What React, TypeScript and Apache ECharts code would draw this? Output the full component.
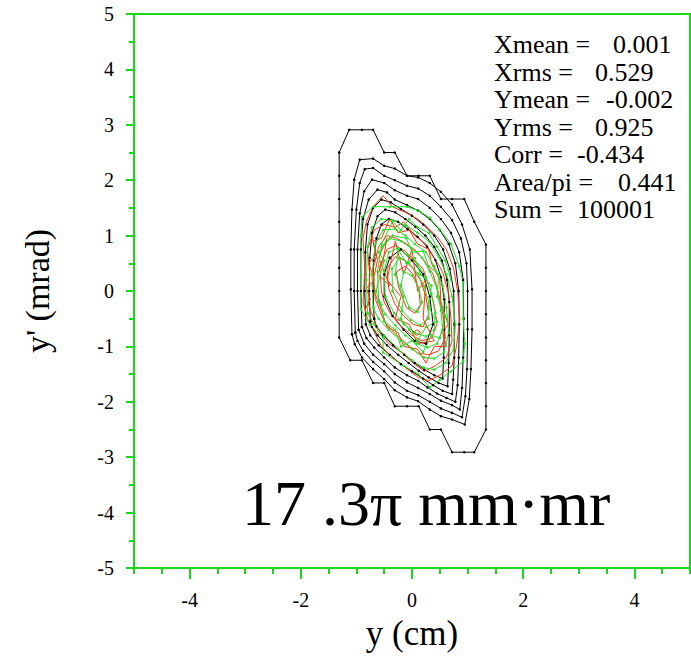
import React, { useEffect, useRef } from "react";
import * as echarts from "echarts";

// ---- axis ticks ----
const xTickLabels = ["-4", "-2", "0", "2", "4"];
const axisMin = -5;
const axisMax = 5;

// ---- statistics box ----
const statLabels = ["Xmean =", "Xrms =", "Ymean =", "Yrms =", "Corr =", "Area/pi =", "Sum ="];
const statValues = ["0.001", "0.529", "-0.002", "0.925", "-0.434", "0.441", "100001"];
const statValueX = [613, 595, 606, 595, 577, 618, 577];
const emittanceText = "17 .3\u03c0 mm\u00b7mr";

// ---- black contours (y [cm], y' [mrad]) ----
const black1 = [
  [-1.31, 2.5], [-1.13, 2.91], [-0.9, 2.91], [-0.7, 2.91], [-0.5, 2.5], [-0.31, 2.5], [-0.09, 2.08], [0.12, 2.08], [0.32, 2.08],
  [0.52, 1.66], [0.72, 1.66], [0.94, 1.66], [1.12, 1.25], [1.33, 0.84], [1.33, 0.42], [1.33, 0], [1.33, -0.42], [1.33, -0.84],
  [1.33, -1.25], [1.33, -1.66], [1.33, -2.08], [1.33, -2.5], [1.12, -2.91], [0.94, -2.91], [0.72, -2.91], [0.52, -2.5], [0.32, -2.5],
  [0.12, -2.08], [-0.09, -2.08], [-0.31, -2.08], [-0.5, -1.66], [-0.7, -1.66], [-0.9, -1.25], [-1.11, -1.25], [-1.31, -0.84],
  [-1.31, -0.42], [-1.31, 0], [-1.31, 0.42], [-1.31, 0.84], [-1.31, 1.25], [-1.31, 1.66], [-1.31, 2.08], [-1.31, 2.5],
];
const black2 = [
  [-1.08, -0.78], [-1.1, 0.03], [-1.1, 0.75], [-1.08, 1.47], [-1.04, 2.01], [-0.94, 2.37], [-0.7, 2.39], [-0.5, 2.26], [-0.31, 2.21],
  [-0.09, 2.08], [0.11, 2.05], [0.32, 1.95], [0.52, 1.79], [0.72, 1.56], [0.9, 1.2], [1.04, 0.75], [1.08, 0.03], [1.08, -0.69],
  [1.06, -1.41], [1.03, -1.95], [0.95, -2.41], [0.72, -2.32], [0.52, -2.26], [0.32, -2.14], [0.11, -1.99], [-0.09, -1.92],
  [-0.31, -1.79], [-0.5, -1.59], [-0.7, -1.41], [-0.9, -1.2], [-1.03, -0.96], [-1.08, -0.78],
];
const black3 = [
  [-1.02, -0.75], [-1.04, 0.0], [-1.04, 0.75], [-1.0, 1.47], [-0.94, 1.95], [-0.85, 2.2], [-0.7, 2.22], [-0.5, 2.08], [-0.31, 2.0],
  [-0.09, 1.9], [0.11, 1.85], [0.32, 1.72], [0.52, 1.52], [0.72, 1.28], [0.88, 0.95], [0.98, 0.5], [1.0, 0.0], [1.0, -0.69],
  [0.99, -1.41], [0.96, -1.9], [0.9, -2.28], [0.72, -2.2], [0.52, -2.12], [0.32, -2.0], [0.11, -1.88], [-0.09, -1.8],
  [-0.31, -1.65], [-0.5, -1.45], [-0.7, -1.28], [-0.88, -1.08], [-0.98, -0.9], [-1.02, -0.75],
];
const black4 = [
  [-0.96, -0.7], [-0.98, 0.0], [-0.98, 0.75], [-0.94, 1.4], [-0.86, 1.8], [-0.72, 2.01], [-0.5, 1.95], [-0.31, 1.82], [-0.09, 1.72],
  [0.11, 1.66], [0.32, 1.5], [0.52, 1.3], [0.7, 1.05], [0.85, 0.7], [0.92, 0.2], [0.93, -0.5], [0.92, -1.2], [0.9, -1.75],
  [0.86, -2.14], [0.72, -2.06], [0.52, -1.98], [0.32, -1.86], [0.11, -1.75], [-0.09, -1.65], [-0.31, -1.5], [-0.5, -1.32],
  [-0.7, -1.15], [-0.86, -0.95], [-0.96, -0.7],
];
const black5 = [
  [-0.9, -0.65], [-0.92, 0.0], [-0.92, 0.75], [-0.88, 1.3], [-0.78, 1.65], [-0.62, 1.83], [-0.45, 1.78], [-0.31, 1.65], [-0.09, 1.55],
  [0.11, 1.45], [0.32, 1.3], [0.5, 1.1], [0.66, 0.85], [0.78, 0.5], [0.84, 0.0], [0.85, -0.6], [0.84, -1.2], [0.82, -1.7],
  [0.78, -2.0], [0.62, -1.93], [0.45, -1.85], [0.28, -1.74], [0.11, -1.62], [-0.09, -1.52], [-0.31, -1.38], [-0.5, -1.2],
  [-0.68, -1.02], [-0.82, -0.85], [-0.9, -0.65],
];
const black6 = [
  [-0.83, -0.6], [-0.85, 0.0], [-0.84, 0.7], [-0.8, 1.2], [-0.7, 1.5], [-0.55, 1.65], [-0.38, 1.6], [-0.2, 1.48], [0.0, 1.36],
  [0.2, 1.2], [0.4, 1.0], [0.56, 0.75], [0.68, 0.4], [0.75, 0.0], [0.76, -0.6], [0.76, -1.2], [0.74, -1.6], [0.72, -1.86],
  [0.55, -1.8], [0.38, -1.7], [0.2, -1.58], [0.0, -1.45], [-0.2, -1.32], [-0.4, -1.15], [-0.6, -0.98], [-0.75, -0.8], [-0.83, -0.6],
];
const black7 = [
  [-0.75, -0.55], [-0.77, 0.0], [-0.76, 0.6], [-0.72, 1.05], [-0.62, 1.35], [-0.48, 1.47], [-0.3, 1.42], [-0.12, 1.3], [0.06, 1.16],
  [0.24, 1.0], [0.4, 0.8], [0.54, 0.55], [0.63, 0.2], [0.67, -0.2], [0.67, -0.8], [0.66, -1.3], [0.64, -1.72], [0.48, -1.66],
  [0.3, -1.56], [0.12, -1.44], [-0.06, -1.3], [-0.25, -1.15], [-0.45, -0.98], [-0.62, -0.8], [-0.72, -0.65], [-0.75, -0.55],
];
const black8 = [
  [-0.68, -0.5], [-0.7, 0.0], [-0.69, 0.55], [-0.64, 0.95], [-0.55, 1.2], [-0.42, 1.3], [-0.25, 1.25], [-0.08, 1.12], [0.1, 0.98],
  [0.27, 0.8], [0.42, 0.56], [0.52, 0.25], [0.58, -0.15], [0.58, -0.7], [0.57, -1.2], [0.55, -1.58], [0.4, -1.52], [0.22, -1.42],
  [0.05, -1.3], [-0.14, -1.15], [-0.34, -0.98], [-0.52, -0.8], [-0.64, -0.64], [-0.68, -0.5],
];
const black9 = [
  [-0.4, 0.6], [-0.2, 0.75], [0.0, 0.55], [0.2, 0.3], [0.32, -0.1], [0.38, -0.6], [0.25, -0.95], [0.05, -0.9], [-0.15, -0.7],
  [-0.35, -0.45], [-0.5, -0.1], [-0.5, 0.3], [-0.4, 0.6],
];

// ---- red contours ----
const red1 = [
  [-0.88, -0.2], [-0.85, 0.4], [-0.88, 0.95], [-0.82, 1.25], [-0.7, 1.52], [-0.52, 1.72], [-0.35, 1.52], [-0.12, 1.42], [0.1, 1.3],
  [0.28, 1.15], [0.45, 0.98], [0.62, 0.75], [0.75, 0.4], [0.82, 0.0], [0.86, -0.5], [0.8, -1.0], [0.72, -1.35], [0.5, -1.52],
  [0.3, -1.62], [0.1, -1.55], [-0.12, -1.38], [-0.35, -1.2], [-0.55, -1.0], [-0.7, -0.7], [-0.8, -0.5], [-0.88, -0.2],
];
const red2 = [
  [-0.78, -0.25], [-0.76, 0.3], [-0.8, 0.75], [-0.68, 1.1], [-0.5, 1.2], [-0.3, 1.15], [-0.15, 1.25], [0.05, 1.0], [0.25, 0.85],
  [0.4, 0.6], [0.55, 0.35], [0.66, -0.05], [0.7, -0.5], [0.72, -0.9], [0.62, -1.2], [0.42, -1.35], [0.22, -1.45], [0.02, -1.3],
  [-0.2, -1.1], [-0.42, -0.95], [-0.62, -0.7], [-0.78, -0.25],
];
const red3 = [
  [-0.66, -0.15], [-0.7, 0.4], [-0.6, 0.8], [-0.45, 1.0], [-0.28, 0.95], [-0.1, 0.85], [0.08, 0.72], [0.22, 0.55], [0.38, 0.3],
  [0.48, -0.05], [0.56, -0.45], [0.6, -0.85], [0.48, -1.08], [0.3, -1.15], [0.1, -1.12], [-0.1, -0.95], [-0.3, -0.78],
  [-0.5, -0.55], [-0.66, -0.15],
];
const red4 = [
  [-0.55, 0.0], [-0.58, 0.45], [-0.45, 0.75], [-0.3, 0.82], [-0.12, 0.72], [0.05, 0.55], [0.2, 0.4], [0.3, 0.1], [0.4, -0.25],
  [0.45, -0.6], [0.35, -0.85], [0.18, -0.9], [0.0, -0.8], [-0.18, -0.65], [-0.38, -0.42], [-0.5, -0.2], [-0.55, 0.0],
];
const red5 = [
  [-0.42, 0.05], [-0.45, 0.4], [-0.3, 0.62], [-0.12, 0.55], [0.02, 0.4], [0.15, 0.2], [0.25, -0.1], [0.3, -0.42], [0.2, -0.65],
  [0.02, -0.6], [-0.15, -0.45], [-0.3, -0.25], [-0.42, 0.05],
];
const red6 = [
  [-0.25, 0.1], [-0.28, 0.35], [-0.12, 0.45], [0.02, 0.3], [0.12, 0.05], [0.15, -0.25], [0.05, -0.4], [-0.1, -0.3], [-0.25, 0.1],
];
const red7 = [[0.02, -0.75], [0.09, -0.7], [0.16, -0.75], [0.09, -0.8], [0.02, -0.75]];
const red8 = [
  [-0.72, 0.1], [-0.62, 0.55], [-0.7, 0.9], [-0.55, 0.95], [-0.4, 1.3], [-0.25, 1.05], [-0.05, 1.1], [0.1, 0.85], [0.3, 0.75],
  [0.35, 0.5], [0.5, 0.2], [0.52, -0.2], [0.65, -0.6], [0.55, -0.75], [0.62, -1.0], [0.4, -1.0], [0.25, -1.3], [0.1, -1.05],
  [-0.15, -1.0], [-0.25, -0.75], [-0.45, -0.65], [-0.55, -0.35], [-0.72, 0.1],
];
const red9 = [
  [-0.45, 0.2], [-0.3, 0.9], [-0.15, 0.3], [0.0, 0.75], [0.1, 0.0], [0.25, 0.2], [0.2, -0.5], [0.4, -0.9], [0.1, -0.95],
  [-0.05, -0.6], [-0.3, -0.5], [-0.2, -0.1], [-0.45, 0.2],
];
const red10 = [[-0.6, 0.6], [-0.45, 0.95], [-0.52, 0.55], [-0.62, 0.3], [-0.4, 0.1], [-0.6, 0.6]];
const red11 = [
  [-0.85, -0.35], [-0.75, -0.15], [-0.82, 0.05], [-0.68, 0.2], [-0.78, 0.5], [-0.65, 0.65], [-0.72, 1.0],
];

// ---- green contours ----
const green1 = [
  [-0.92, -0.33], [-0.92, 0.3], [-0.92, 1.0], [-0.9, 1.34], [-0.7, 1.52], [-0.4, 1.52], [-0.09, 1.52], [0.12, 1.45], [0.32, 1.32],
  [0.5, 1.11], [0.7, 0.85], [0.85, 0.45], [0.92, 0.15], [0.92, -0.5], [0.95, -0.95], [0.92, -1.27], [0.7, -1.45], [0.5, -1.6],
  [0.32, -1.74], [0.11, -1.5], [-0.15, -1.35], [-0.52, -1.11], [-0.52, -0.84], [-0.75, -0.62], [-0.92, -0.33],
];
const green2 = [
  [-0.8, -0.4], [-0.82, 0.2], [-0.8, 0.8], [-0.72, 1.15], [-0.55, 1.3], [-0.35, 1.28], [-0.1, 1.18], [0.1, 1.05], [0.3, 0.9],
  [0.48, 0.62], [0.62, 0.3], [0.72, -0.1], [0.78, -0.6], [0.75, -1.05], [0.6, -1.3], [0.4, -1.42], [0.2, -1.38], [0.0, -1.25],
  [-0.25, -1.05], [-0.5, -0.8], [-0.68, -0.6], [-0.8, -0.4],
];
const green3 = [
  [-0.7, -0.3], [-0.72, 0.3], [-0.66, 0.85], [-0.52, 1.1], [-0.3, 1.12], [-0.12, 1.0], [0.05, 0.85], [0.25, 0.7], [0.4, 0.45],
  [0.55, 0.1], [0.62, -0.3], [0.66, -0.75], [0.58, -1.1], [0.4, -1.22], [0.22, -1.2], [0.0, -1.05], [-0.2, -0.9], [-0.42, -0.7],
  [-0.6, -0.5], [-0.7, -0.3],
];
const green4 = [
  [-0.6, -0.2], [-0.62, 0.35], [-0.55, 0.8], [-0.4, 0.95], [-0.2, 0.9], [-0.02, 0.78], [0.18, 0.6], [0.32, 0.35], [0.45, 0.05],
  [0.52, -0.35], [0.55, -0.7], [0.45, -0.95], [0.28, -1.02], [0.08, -0.95], [-0.12, -0.8], [-0.3, -0.62], [-0.48, -0.42], [-0.6, -0.2],
];
const green5 = [
  [-0.48, -0.1], [-0.5, 0.35], [-0.42, 0.7], [-0.25, 0.78], [-0.08, 0.65], [0.1, 0.48], [0.25, 0.25], [0.35, -0.05], [0.42, -0.4],
  [0.4, -0.7], [0.25, -0.82], [0.05, -0.75], [-0.15, -0.6], [-0.32, -0.4], [-0.48, -0.1],
];
const green6 = [
  [-0.35, 0.0], [-0.36, 0.4], [-0.22, 0.6], [-0.05, 0.5], [0.1, 0.32], [0.22, 0.08], [0.3, -0.2], [0.3, -0.5], [0.15, -0.62],
  [-0.02, -0.52], [-0.18, -0.35], [-0.35, 0.0],
];
const green7 = [[-0.2, 0.1], [-0.15, 0.35], [0.0, 0.28], [0.12, 0.05], [0.18, -0.2], [0.1, -0.38], [-0.05, -0.3], [-0.2, 0.1]];
const green8 = [
  [-0.65, 0.0], [-0.5, 0.55], [-0.6, 0.7], [-0.35, 1.0], [-0.1, 0.95], [0.0, 0.7], [0.2, 0.72], [0.3, 0.45], [0.48, 0.3],
  [0.45, -0.1], [0.6, -0.45], [0.5, -0.85], [0.35, -0.8], [0.2, -1.1], [0.0, -0.9], [-0.2, -1.0], [-0.3, -0.7], [-0.5, -0.55],
  [-0.55, -0.25], [-0.65, 0.0],
];
const green9 = [
  [-0.3, 0.3], [-0.25, 0.75], [-0.1, 0.5], [0.05, 0.6], [0.15, 0.3], [0.35, 0.1], [0.3, -0.3], [0.45, -0.55], [0.25, -0.65],
  [0.1, -0.9], [-0.05, -0.7], [-0.2, -0.5], [-0.15, -0.1], [-0.3, 0.3],
];
const green10 = [
  [-0.55, 0.85], [-0.35, 1.25], [-0.2, 1.1], [-0.05, 1.3], [0.1, 1.15], [0.3, 1.05], [0.45, 0.8], [0.6, 0.55], [0.7, 0.2],
];

const blackContours = [black1, black2, black3, black4, black5, black6, black7, black8, black9];
const redContours = [red1, red2, red3, red4, red5, red6, red7, red8, red9, red10, red11];
const greenContours = [green1, green2, green3, green4, green5, green6, green7, green8, green9, green10];

const SERIF = "Liberation Serif";
const AXIS_GREEN = "#18d818";

export default function App() {
  const ref = useRef<HTMLDivElement>(null);

  useEffect(() => {
    if (!ref.current) return;
    const chart = echarts.init(ref.current, null, { renderer: "svg" });

    const mk = (data: number[][], color: string, dot: boolean) => ({
      type: "line",
      xAxisIndex: 0,
      yAxisIndex: 0,
      data,
      showSymbol: dot,
      symbol: "circle",
      symbolSize: 2.5,
      itemStyle: { color },
      lineStyle: { color, width: 1 },
      silent: true,
      z: 3,
    });

    const series: any[] = [
      ...blackContours.map((c) => mk(c, "#000000", true)),
      ...redContours.map((c) => mk(c, "#ff3311", false)),
      ...greenContours.map((c) => mk(c, "#22e022", true)),
    ];

    const graphic: any[] = [];
    statLabels.forEach((lab, i) => {
      const y = 44.5 + i * 27.5;
      graphic.push({
        type: "text",
        x: 494,
        y,
        style: { text: lab, fontFamily: SERIF, fontSize: 26, fill: "#000", verticalAlign: "middle", align: "left" },
        z: 10,
      });
      graphic.push({
        type: "text",
        x: statValueX[i],
        y,
        style: { text: statValues[i], fontFamily: SERIF, fontSize: 26, fill: "#000", verticalAlign: "middle", align: "left" },
        z: 10,
      });
    });
    graphic.push({
      type: "text",
      x: 242,
      y: 503,
      style: { text: emittanceText, fontFamily: SERIF, fontSize: 64, fill: "#000", verticalAlign: "middle", align: "left" },
      z: 10,
    });

    chart.setOption({
      animation: false,
      backgroundColor: "#ffffff",
      grid: {
        left: 134,
        right: 1,
        top: 14,
        bottom: 87,
        show: true,
        borderColor: AXIS_GREEN,
        borderWidth: 2,
        containLabel: false,
      },
      xAxis: [
        {
          type: "value",
          min: axisMin,
          max: axisMax,
          interval: 0.5,
          axisLine: { show: true, onZero: false, lineStyle: { color: AXIS_GREEN, width: 2 } },
          axisTick: { show: true, length: 6, lineStyle: { color: AXIS_GREEN, width: 2 } },
          axisLabel: { show: false },
          splitLine: { show: false },
        },
        {
          type: "category",
          data: xTickLabels,
          position: "bottom",
          boundaryGap: true,
          axisLine: { show: false, onZero: false },
          axisTick: { show: true, alignWithLabel: true, length: 11, lineStyle: { color: AXIS_GREEN, width: 2 } },
          axisLabel: { color: "#000", fontFamily: SERIF, fontSize: 20, margin: 22 },
          splitLine: { show: false },
          name: "y (cm)",
          nameLocation: "middle",
          nameGap: 48,
          nameTextStyle: { color: "#000", fontFamily: SERIF, fontSize: 35 },
        },
      ],
      yAxis: {
        type: "value",
        min: axisMin,
        max: axisMax,
        interval: 1,
        axisLine: { show: true, onZero: false, lineStyle: { color: AXIS_GREEN, width: 2 } },
        axisTick: { show: true, length: 8, lineStyle: { color: AXIS_GREEN, width: 2 } },
        minorTick: { show: true, splitNumber: 2, length: 5, lineStyle: { color: AXIS_GREEN, width: 2 } },
        axisLabel: { color: "#000", fontFamily: SERIF, fontSize: 20, margin: 20 },
        splitLine: { show: false },
        minorSplitLine: { show: false },
        name: "y' (mrad)",
        nameLocation: "middle",
        nameGap: 80,
        nameTextStyle: { color: "#000", fontFamily: SERIF, fontSize: 34 },
      },
      series,
      graphic,
    });

    return () => chart.dispose();
  }, []);

  return <div ref={ref} style={{ width: 691, height: 656, position: "absolute", left: 0, top: 0 }} />;
}
